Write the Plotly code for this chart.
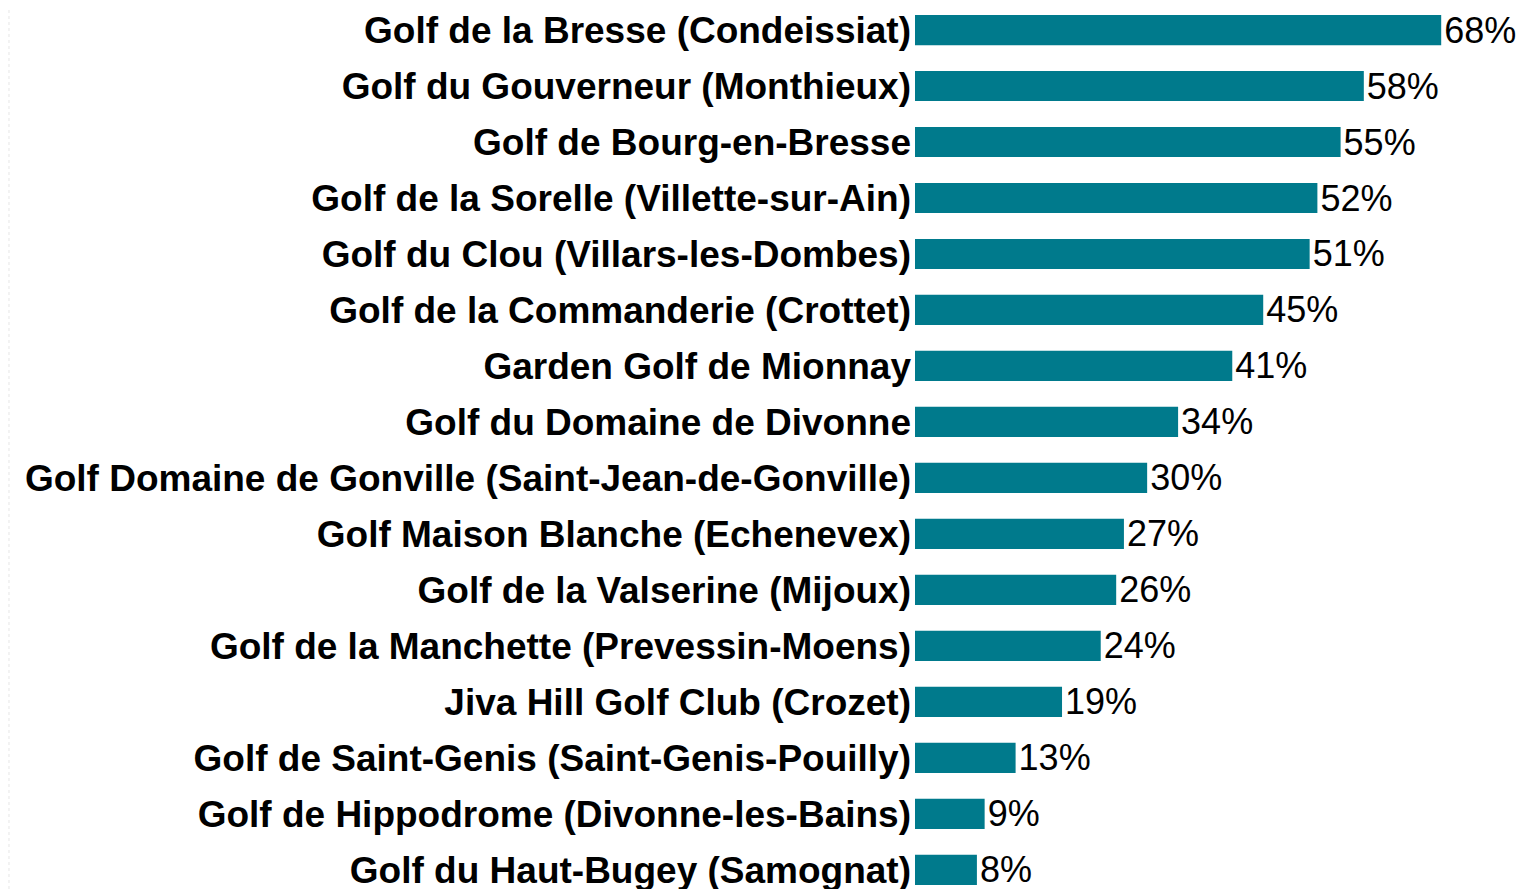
import plotly.graph_objects as go

golfs = [
    "Golf de la Bresse (Condeissiat)",
    "Golf du Gouverneur (Monthieux)",
    "Golf de Bourg-en-Bresse",
    "Golf de la Sorelle (Villette-sur-Ain)",
    "Golf du Clou (Villars-les-Dombes)",
    "Golf de la Commanderie (Crottet)",
    "Garden Golf de Mionnay",
    "Golf du Domaine de Divonne",
    "Golf Domaine de Gonville (Saint-Jean-de-Gonville)",
    "Golf Maison Blanche (Echenevex)",
    "Golf de la Valserine (Mijoux)",
    "Golf de la Manchette (Prevessin-Moens)",
    "Jiva Hill Golf Club (Crozet)",
    "Golf de Saint-Genis (Saint-Genis-Pouilly)",
    "Golf de Hippodrome (Divonne-les-Bains)",
    "Golf du Haut-Bugey (Samognat)",
]
pourcentages = [68, 58, 55, 52, 51, 45, 41, 34, 30, 27, 26, 24, 19, 13, 9, 8]

couleur = "#007a8c"

fig = go.Figure()

fig.add_trace(go.Bar(
    x=pourcentages,
    y=golfs,
    orientation="h",
    marker=dict(color=couleur, line=dict(width=0)),
    text=[f"{v}%" for v in pourcentages],
    textposition="outside",
    constraintext="none",
    textfont=dict(family="Liberation Sans, Arial", size=36, color="black"),
    cliponaxis=False,
    hovertemplate="%{y}: %{x}%<extra></extra>",
))

# ligne pointillée très pâle à gauche
fig.add_shape(
    type="line", xref="paper", yref="paper",
    x0=-1.4877, x1=-1.4877, y0=0, y1=1.01,
    line=dict(color="#e6e6e6", width=1, dash="dot"),
)

fig.update_layout(
    width=1516,
    height=881,
    margin=dict(l=907, r=0, t=0, b=0, autoexpand=False),
    plot_bgcolor="white",
    paper_bgcolor="white",
    bargap=0.46,
    showlegend=False,
    font=dict(family="Liberation Sans, Arial", size=36, color="black"),
    xaxis=dict(
        range=[0, 78.7],
        showgrid=False,
        zeroline=False,
        showline=False,
        showticklabels=False,
        ticks="",
    ),
    yaxis=dict(
        type="category",
        categoryorder="array",
        categoryarray=golfs,
        range=[15.34, -0.393],
        showgrid=False,
        zeroline=False,
        showline=False,
        ticks="",
        tickfont=dict(family="Liberation Sans, Arial", size=37, color="black", weight="bold"),
        ticklabelstandoff=3,
    ),
)

fig.write_html("out.html")
